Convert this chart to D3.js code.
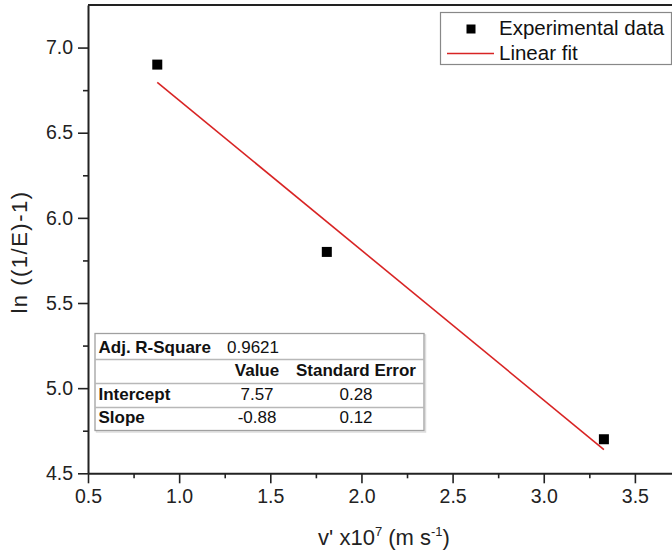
<!DOCTYPE html>
<html>
<head>
<meta charset="utf-8">
<script src="https://cdn.jsdelivr.net/npm/d3@7/dist/d3.min.js"></script>
<style>
  html, body { margin: 0; padding: 0; background: #fff; }
  svg { display: block; font-family: "Liberation Sans", Arial, Helvetica, sans-serif; }
</style>
</head>
<body>
<svg id="chart" width="672" height="555"></svg>
<script>
// ---- data ----
const xValues = [0.88, 1.81, 3.33];
const yValues = [6.90, 5.80, 4.70];
const fitXRange = [0.88, 3.33];
const fitIntercept = 7.57;
const fitSlope = -0.88;
const xTicks = [0.5, 1.0, 1.5, 2.0, 2.5, 3.0, 3.5];
const yTicks = [4.5, 5.0, 5.5, 6.0, 6.5, 7.0];
const legendLabels = ["Experimental data", "Linear fit"];
const tableRows = [
  ["Adj. R-Square", "0.9621", ""],
  ["", "Value", "Standard Error"],
  ["Intercept", "7.57", "0.28"],
  ["Slope", "-0.88", "0.12"]
];

// ---- layout ----
const svg = d3.select("#chart");
const x = d3.scaleLinear().domain([0.5, 3.72]).range([88, 675]);
const y = d3.scaleLinear().domain([4.5, 7.25]).range([473.3, 5]);
const axisColor = "#222";
const red = "#d82424";

// minor ticks
const xMinor = d3.range(0.75, 3.72, 0.5);
const yMinor = d3.range(4.75, 7.25, 0.5);

const gx = svg.append("g").attr("transform", `translate(0,${y(4.5)})`);
gx.call(d3.axisBottom(x).tickValues(xTicks).tickFormat(d3.format(".1f")).tickSize(10).tickPadding(6).tickSizeOuter(0));
gx.append("g").call(d3.axisBottom(x).tickValues(xMinor).tickFormat("").tickSize(5).tickSizeOuter(0))
  .select(".domain").remove();

const gy = svg.append("g").attr("transform", `translate(${x(0.5)},0)`);
gy.call(d3.axisLeft(y).tickValues(yTicks).tickFormat(d3.format(".1f")).tickSize(10).tickPadding(5).tickSizeOuter(0));
gy.append("g").call(d3.axisLeft(y).tickValues(yMinor).tickFormat("").tickSize(5).tickSizeOuter(0))
  .select(".domain").remove();

svg.selectAll(".domain").attr("stroke", axisColor).attr("stroke-width", 2);
svg.selectAll(".tick line").attr("stroke", axisColor).attr("stroke-width", 1.6);
svg.selectAll(".tick text").attr("fill", "#222").style("font-size", "19.5px")
  .style("font-family", "'Liberation Sans', Arial, sans-serif");

// top frame line
svg.append("line")
  .attr("x1", x(0.5)).attr("x2", x(3.72))
  .attr("y1", y(7.25)).attr("y2", y(7.25))
  .attr("stroke", axisColor).attr("stroke-width", 2);

// axis labels
const xl = svg.append("text")
  .attr("x", 384).attr("y", 545)
  .attr("text-anchor", "middle")
  .attr("fill", "#222")
  .style("font-size", "22px");
xl.append("tspan").text("v' x10");
xl.append("tspan").text("7").attr("dy", -9).style("font-size", "13px");
xl.append("tspan").text(" (m s").attr("dy", 9);
xl.append("tspan").text("-1").attr("dy", -9).style("font-size", "13px");
xl.append("tspan").text(")").attr("dy", 9);

svg.append("text")
  .attr("transform", "translate(27,252) rotate(-90)")
  .attr("text-anchor", "middle")
  .attr("fill", "#222")
  .style("font-size", "22px")
  .style("letter-spacing", "1.5px")
  .text("ln ((1/E)-1)");

// fit line
const fitPts = fitXRange.map(v => [v, fitIntercept + fitSlope * v]);
svg.append("path")
  .attr("d", d3.line().x(d => x(d[0])).y(d => y(d[1]))(fitPts))
  .attr("stroke", red).attr("stroke-width", 1.6).attr("fill", "none");

// data points
const ms = 10;
svg.selectAll("rect.pt").data(xValues.map((v, i) => [v, yValues[i]])).enter()
  .append("rect").attr("class", "pt")
  .attr("x", d => x(d[0]) - ms / 2).attr("y", d => y(d[1]) - ms / 2)
  .attr("width", ms).attr("height", ms).attr("fill", "#000");

// legend
const lg = svg.append("g");
lg.append("rect").attr("x", 440.5).attr("y", 12.5).attr("width", 231).attr("height", 52)
  .attr("fill", "#fff").attr("stroke", "#888").attr("stroke-width", 1.2);
lg.append("rect").attr("x", 466.5).attr("y", 24.5).attr("width", 9).attr("height", 9).attr("fill", "#000");
lg.append("line").attr("x1", 447).attr("x2", 494).attr("y1", 53.5).attr("y2", 53.5)
  .attr("stroke", red).attr("stroke-width", 1.6);
lg.append("text").attr("x", 499).attr("y", 35).attr("fill", "#111").style("font-size", "20.5px").text(legendLabels[0]);
lg.append("text").attr("x", 499).attr("y", 60).attr("fill", "#111").style("font-size", "20.5px").text(legendLabels[1]);

// stats table
const tb = svg.append("g");
const tx0 = 95, tx1 = 424, ty0 = 333.5;
const rowH = [26, 24, 24, 23];
const rowTop = [ty0];
rowH.forEach((h, i) => rowTop.push(rowTop[i] + h));
tb.append("rect").attr("x", tx0 + 1.5).attr("y", ty0 + 1.5).attr("width", tx1 - tx0).attr("height", rowTop[4] - ty0)
  .attr("fill", "none").attr("stroke", "#ddd").attr("stroke-width", 1.5);
tb.append("rect").attr("x", tx0).attr("y", ty0).attr("width", tx1 - tx0).attr("height", rowTop[4] - ty0)
  .attr("fill", "#fff").attr("stroke", "#a0a0a0").attr("stroke-width", 1.3);
[1, 2, 3].forEach(i => {
  tb.append("line").attr("x1", tx0).attr("x2", tx1).attr("y1", rowTop[i]).attr("y2", rowTop[i])
    .attr("stroke", "#b8b8b8").attr("stroke-width", 1.3);
});
const fs = "17px";
const baselines = [352.5, 376, 399.5, 422.5];
tableRows.forEach((row, r) => {
  if (row[0]) tb.append("text").attr("x", 98.5).attr("y", baselines[r]).attr("fill", "#111")
    .style("font-size", fs).style("font-weight", "bold").text(row[0]);
  if (r === 0) {
    tb.append("text").attr("x", 227).attr("y", baselines[r]).attr("fill", "#111")
      .style("font-size", fs).text(row[1]);
  } else {
    const bold = r === 1;
    tb.append("text").attr("x", 257).attr("y", baselines[r]).attr("text-anchor", "middle").attr("fill", "#111")
      .style("font-size", fs).style("font-weight", bold ? "bold" : "normal").text(row[1]);
    tb.append("text").attr("x", 356).attr("y", baselines[r]).attr("text-anchor", "middle").attr("fill", "#111")
      .style("font-size", fs).style("font-weight", bold ? "bold" : "normal").text(row[2]);
  }
});
</script>
</body>
</html>
